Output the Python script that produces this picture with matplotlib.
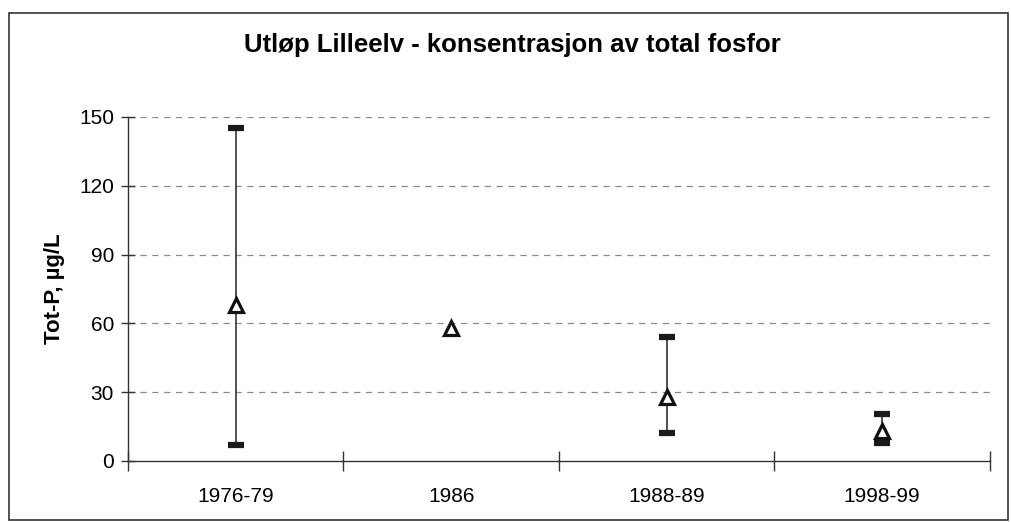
import numpy as np
import matplotlib
matplotlib.use("Agg")
import matplotlib.pyplot as plt
from matplotlib.patches import Rectangle

# Data
perioder = ["1976-79", "1986", "1988-89", "1998-99"]
middel = [68, 58, 28, 13]
maks = [145, np.nan, 54, 20.5]
minimum = [7, np.nan, 12, 8]

plt.rcParams["font.family"] = ["Liberation Sans", "DejaVu Sans"]

fig = plt.figure(figsize=(10.11, 5.22), dpi=100)
ax = fig.add_axes([0.1266, 0.1169, 0.979 - 0.1266, 0.7759 - 0.1169])

x = np.arange(len(perioder))
maks_arr = np.array(maks, dtype=float)
min_arr = np.array(minimum, dtype=float)
ok = ~np.isnan(maks_arr)

# Vertical range line
ax.vlines(x[ok], min_arr[ok], maks_arr[ok], color="#333333", linewidth=1.2, zorder=2)
# Max / min caps
ax.plot(x[ok], maks_arr[ok], ls="none", marker="_", ms=12, mew=4.5,
        color="#1a1a1a", zorder=3)
ax.plot(x[ok], min_arr[ok], ls="none", marker="_", ms=12, mew=4.5,
        color="#1a1a1a", zorder=3)
# Mean values
ax.plot(x, middel, ls="none", marker="^", ms=10.5, mew=2.3,
        markerfacecolor="white", markeredgecolor="#111111", zorder=4)

ax.set_xlim(-0.5, len(perioder) - 0.5)
ax.set_ylim(0, 150)
ax.set_yticks(np.arange(0, 151, 30))
ax.set_xticks(x)
ax.set_xticklabels(perioder)
ax.set_xticks(np.arange(-0.5, len(perioder), 1.0), minor=True)

# Gridlines (not at 0)
for yv in np.arange(30, 151, 30):
    ax.axhline(yv, color="#8a8a8a", linestyle=(0, (5, 4.5)), linewidth=0.9, zorder=1)

for s in ["top", "right"]:
    ax.spines[s].set_visible(False)
for s in ["left", "bottom"]:
    ax.spines[s].set_color("#333333")
    ax.spines[s].set_linewidth(1.0)

ax.tick_params(axis="x", which="major", length=0, pad=19, labelsize=15)
ax.tick_params(axis="x", which="minor", direction="inout", length=14,
               color="#333333", width=1.0)
ax.tick_params(axis="y", direction="inout", length=10, color="#333333",
               width=1.0, labelsize=15, pad=5)

ax.set_ylabel("Tot-P, µg/L", fontsize=16, fontweight="bold", labelpad=10)
fig.text(0.507, 0.913, "Utløp Lilleelv - konsentrasjon av total fosfor",
         ha="center", va="center", fontsize=18.5, fontweight="bold")

# Frame around the whole chart
fig.patches.append(Rectangle((9 / 1011, 0.003), 999 / 1011, 1 - 13 / 522 - 0.003,
                             transform=fig.transFigure, fill=False,
                             edgecolor="#333333", linewidth=1.2))

fig.savefig("out.png", dpi=100, facecolor="white")
